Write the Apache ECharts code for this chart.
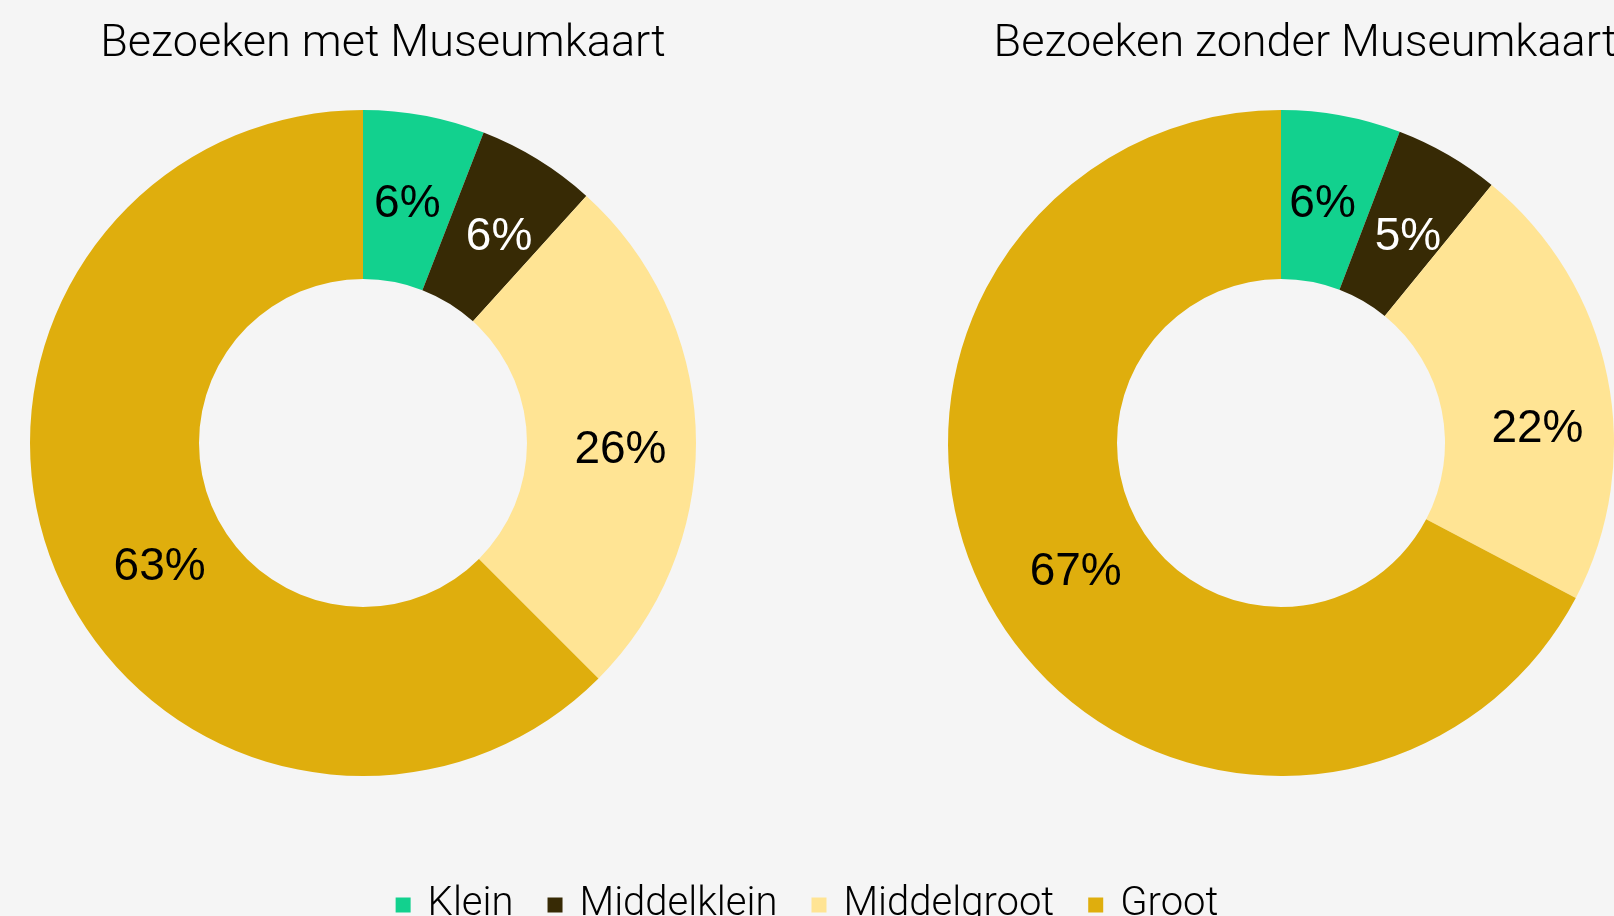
<!DOCTYPE html>
<html>
<head>
<meta charset="utf-8">
<script src="https://cdn.jsdelivr.net/npm/echarts@6/dist/echarts.min.js"></script>
<style>
    html, body { margin: 0; padding: 0; background: #f5f5f5; }
    #chart { width: 1614px; height: 916px; }
</style>
</head>
<body>
<div id="chart"></div>
<script>
// share of visits per museum size (percent)
const categories = ['Klein', 'Middelklein', 'Middelgroot', 'Groot'];
const metKaart = [5.9, 5.8, 25.8, 62.5];
const zonderKaart = [5.8, 5.1, 21.8, 67.3];
const titles = ['Bezoeken met Museumkaart', 'Bezoeken zonder Museumkaart'];

const colors = ['#12d18e', '#372a05', '#ffe494', '#dfae0d'];
const labelColors = ['#000', '#fff', '#000', '#000'];
// small nudges so the labels sit where the original put them
const offsetsMet = [[-2, 9], [4, 8], [6, 14], [29, 28]];
const offsetsZonder = [[-4, 9], [1, 12], [10, 37], [10, -1]];

function toData(values, offsets) {
    return values.map((v, i) => ({
        value: v,
        name: categories[i],
        itemStyle: { color: colors[i] },
        label: { color: labelColors[i], offset: offsets[i] }
    }));
}

function pieSeries(values, center, offsets) {
    return {
        type: 'pie',
        radius: [164, 333],
        center: center,
        startAngle: 90,
        clockwise: true,
        avoidLabelOverlap: false,
        silent: true,
        label: {
            show: true,
            position: 'inside',
            fontFamily: 'Liberation Sans',
            fontSize: 46,
            formatter: p => Math.round(p.value) + '%'
        },
        labelLine: { show: false },
        data: toData(values, offsets)
    };
}

const titleStyle = { fontFamily: 'Roboto', fontWeight: 300, fontSize: 45, color: '#000' };

const chart = echarts.init(document.getElementById('chart'));
chart.setOption({
    backgroundColor: '#f5f5f5',
    animation: false,
    title: [
        { text: titles[0], left: 378, top: 17, textAlign: 'center', textStyle: titleStyle },
        { text: titles[1], left: 1300, top: 17, textAlign: 'center', textStyle: titleStyle }
    ],
    legend: {
        data: categories,
        left: 'center',
        top: 880,
        icon: 'rect',
        itemWidth: 15,
        itemHeight: 15,
        itemGap: 34,
        textStyle: {
            fontFamily: 'Roboto',
            fontWeight: 300,
            fontSize: 40,
            color: '#000',
            padding: [0, 0, 0, 12]
        }
    },
    series: [
        pieSeries(metKaart, [363, 443], offsetsMet),
        pieSeries(zonderKaart, [1281, 443], offsetsZonder)
    ]
});
</script>
</body>
</html>
